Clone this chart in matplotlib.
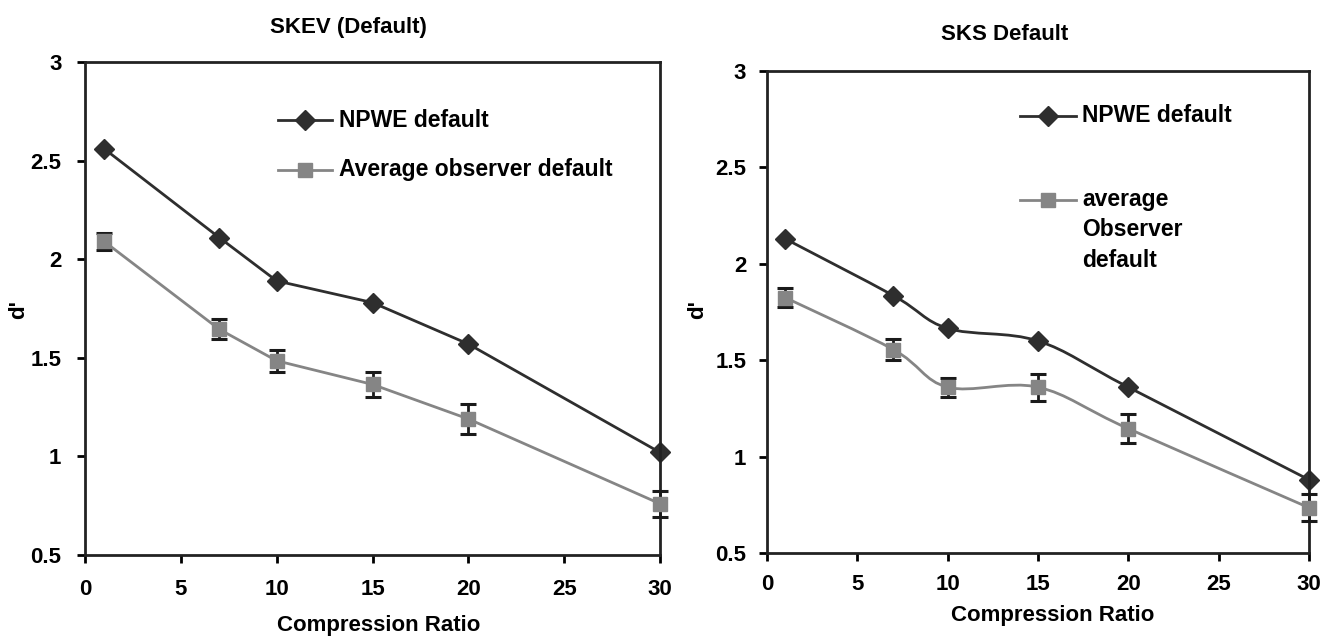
import numpy as np
import matplotlib
matplotlib.use("Agg")
import matplotlib.pyplot as plt
from matplotlib.path import Path
from matplotlib.patches import PathPatch
from matplotlib import font_manager

# d' against compression ratio, two readers
ratio = [1, 7, 10, 15, 20, 30]

skev_npwe = [2.56, 2.11, 1.89, 1.78, 1.57, 1.02]
skev_obs = [2.09, 1.645, 1.485, 1.365, 1.19, 0.76]
skev_err = [0.045, 0.05, 0.055, 0.065, 0.075, 0.065]

sks_npwe = [2.13, 1.835, 1.665, 1.60, 1.36, 0.88]
sks_obs = [1.825, 1.555, 1.36, 1.36, 1.145, 0.735]
sks_err = [0.05, 0.055, 0.05, 0.07, 0.075, 0.07]

dark = "#2e2e2e"
grey = "#858585"

names = {f.name for f in font_manager.fontManager.ttflist}
family = "Liberation Sans Narrow" if "Liberation Sans Narrow" in names else "Liberation Sans"
plt.rcParams["font.family"] = [family, "DejaVu Sans"]
plt.rcParams["font.weight"] = "bold"
plt.rcParams["font.size"] = 16

DSIZE = 10.5  # diamond
SSIZE = 9.5   # square


def smooth_line(ax, x, y, color):
    # Bezier smoothing through the points, like a spreadsheet "smoothed line"
    p = np.column_stack([x, y]).astype(float)
    n = len(p)
    verts = [p[0]]
    codes = [Path.MOVETO]
    for i in range(n - 1):
        prev = p[i - 1] if i > 0 else p[i]
        nxt = p[i + 2] if i + 2 < n else p[i + 1]
        c1 = p[i] + (p[i + 1] - prev) / 6
        c2 = p[i + 1] - (nxt - p[i]) / 6
        verts += [c1, c2, p[i + 1]]
        codes += [Path.CURVE4] * 3
    ax.add_patch(PathPatch(Path(verts, codes), fill=False, edgecolor=color, lw=2))


def legend_entry(ax, x0, x1, y, marker, color, msize):
    xm = (x0 + x1) / 2
    ax.plot([x0, xm, x1], [y, y, y], color=color, lw=2, marker=marker,
            markevery=[1], markersize=msize, transform=ax.transAxes, clip_on=False)


def style(ax, pad):
    ax.set_xlim(0, 30)
    ax.set_ylim(0.5, 3)
    ax.set_xticks(range(0, 31, 5))
    ax.set_yticks([0.5, 1, 1.5, 2, 2.5, 3])
    ax.set_yticklabels(["0.5", "1", "1.5", "2", "2.5", "3"])
    for s in ax.spines.values():
        s.set_linewidth(2)
        s.set_color("#222222")
    ax.tick_params(direction="out", length=6, width=2, labelsize=16, pad=pad)
    for a in ax.get_xticklabels() + ax.get_yticklabels():
        a.set_fontweight("bold")


fig = plt.figure(figsize=(13.22, 6.37), dpi=100)

# left panel
ax1 = fig.add_axes([85 / 1322, 1 - 555 / 637, 575 / 1322, 493 / 637])
style(ax1, 11)
ax1.plot(ratio, skev_npwe, color=dark, lw=2, marker="D", markersize=DSIZE, clip_on=False)
ax1.errorbar(ratio, skev_obs, yerr=skev_err, fmt="none", ecolor="#1a1a1a",
             elinewidth=2, capsize=6, capthick=2.2, zorder=3, clip_on=False)
ax1.plot(ratio, skev_obs, color=grey, lw=2, marker="s", markersize=SSIZE, zorder=4, clip_on=False)
legend_entry(ax1, 0.336, 0.430, 0.882, "D", dark, DSIZE)
legend_entry(ax1, 0.336, 0.430, 0.781, "s", grey, SSIZE)
ax1.text(0.442, 0.882, "NPWE default", transform=ax1.transAxes, va="center", fontsize=16.5)
ax1.text(0.442, 0.781, "Average observer default", transform=ax1.transAxes, va="center", fontsize=16.5)
fig.text(348 / 1322, 1 - 28 / 637, "SKEV (Default)", ha="center", va="center", fontsize=16)
fig.text(379 / 1322, 1 - 625 / 637, "Compression Ratio", ha="center", va="center", fontsize=16)
fig.text(19 / 1322, 1 - 310 / 637, "d'", ha="center", va="center", rotation=90, fontsize=16)

# right panel
ax2 = fig.add_axes([767 / 1322, 1 - 553 / 637, 542 / 1322, 482 / 637])
style(ax2, 9)
smooth_line(ax2, ratio, sks_npwe, dark)
ax2.plot(ratio, sks_npwe, ls="none", color=dark, marker="D", markersize=DSIZE, clip_on=False)
smooth_line(ax2, ratio, sks_obs, grey)
ax2.errorbar(ratio, sks_obs, yerr=sks_err, fmt="none", ecolor="#1a1a1a",
             elinewidth=2, capsize=6, capthick=2.2, zorder=3, clip_on=False)
ax2.plot(ratio, sks_obs, ls="none", color=grey, marker="s", markersize=SSIZE, zorder=4, clip_on=False)
legend_entry(ax2, 0.467, 0.570, 0.907, "D", dark, DSIZE)
legend_entry(ax2, 0.467, 0.570, 0.732, "s", grey, SSIZE)
ax2.text(0.581, 0.907, "NPWE default", transform=ax2.transAxes, va="center", fontsize=16.5)
ax2.text(0.581, 0.757, "average\nObserver\ndefault", transform=ax2.transAxes,
         va="top", fontsize=16.5, linespacing=1.4)
fig.text(1005 / 1322, 1 - 35 / 637, "SKS Default", ha="center", va="center", fontsize=16)
fig.text(1053 / 1322, 1 - 615 / 637, "Compression Ratio", ha="center", va="center", fontsize=16)
fig.text(698 / 1322, 1 - 310 / 637, "d'", ha="center", va="center", rotation=90, fontsize=16)

fig.savefig("out.png", dpi=100)
